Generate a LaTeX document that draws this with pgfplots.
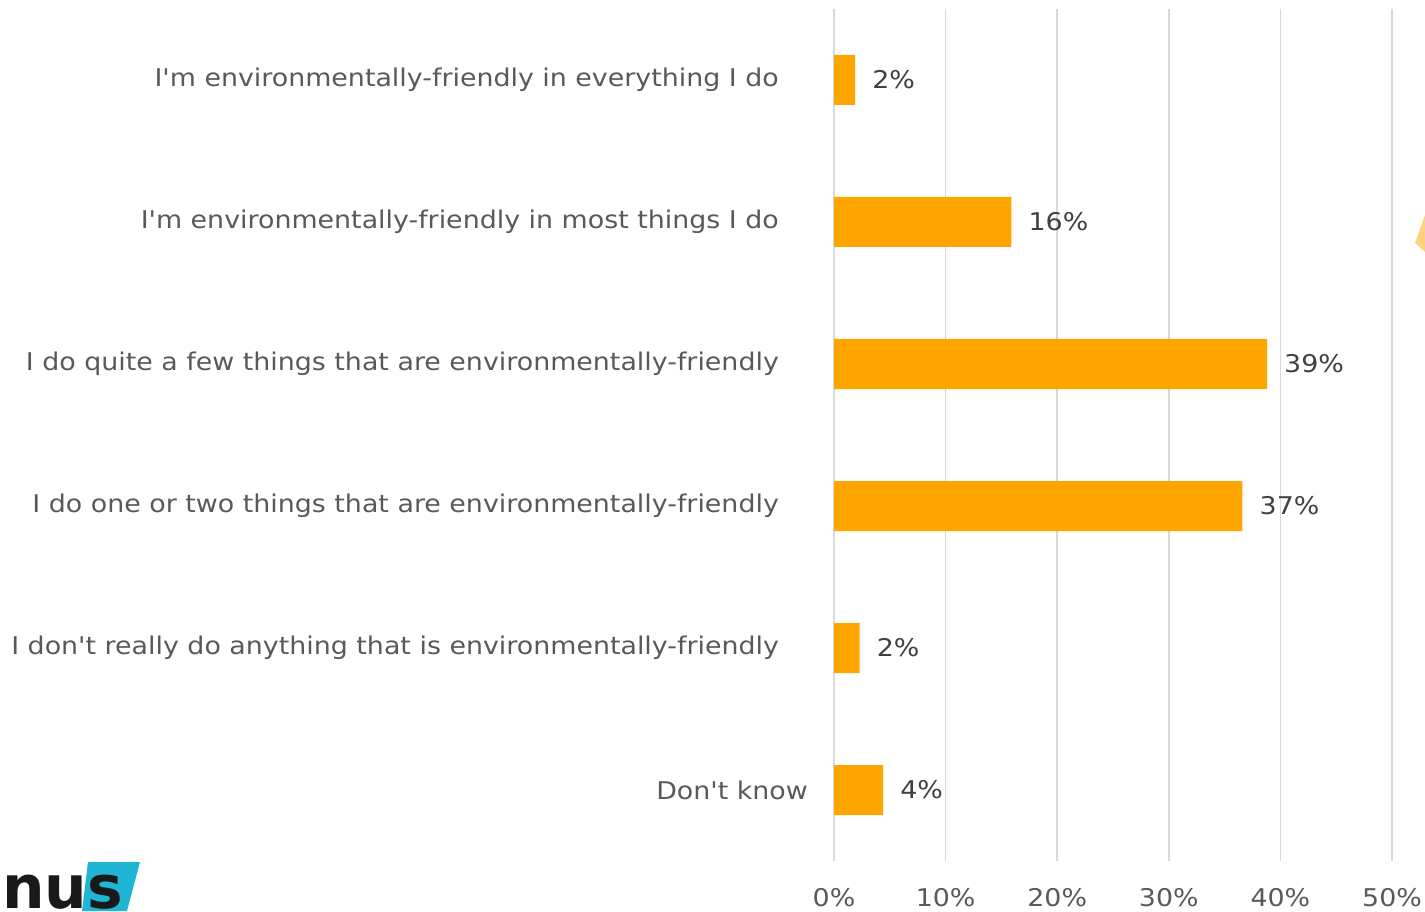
\documentclass[border=0pt]{standalone}
\usepackage{pgfplots}
\pgfplotsset{compat=1.18}
\usepackage{fontspec}
\setmainfont{DejaVu Sans}[Ligatures=TeXOff, FakeStretch=1.1]
\newfontfamily\logofont{DejaVu Sans}[Ligatures=TeXOff]
\definecolor{barc}{HTML}{FFA500}
\definecolor{txt}{HTML}{595959}
\definecolor{dtxt}{HTML}{404040}
\definecolor{gridc}{HTML}{D9D9D9}
\definecolor{nuscyan}{HTML}{1FB6D6}
\definecolor{lightor}{HTML}{FFD27F}
\begin{document}
\begin{tikzpicture}[x=1bp,y=1bp]
\path[use as bounding box] (0,0) rectangle (1425,911);
\fill[nuscyan] (88,49) -- (140,49) -- (127,0) -- (82,0) -- cycle;
\node[anchor=base west, inner sep=0pt, font=\logofont\fontsize{60}{60}\bfseries, text=black!90] at (2,3) {nus};
\fill[lightor] (1415,668) -- (1425,696) -- (1425,659) -- cycle;
\begin{axis}[
  at={(834bp,50bp)}, anchor=south west,
  scale only axis, width=558bp, height=852bp,
  xbar, bar width=50bp,
  xmin=0, xmax=50, ymin=-0.5, ymax=5.5, y dir=reverse,
  axis line style={draw=none},
  xtick={0,10,20,30,40,50},
  xticklabels={0\%,10\%,20\%,30\%,40\%,50\%},
  ytick={0,1,2,3,4,5},
  yticklabels={
    I'm environmentally-friendly in everything I do,
    I'm environmentally-friendly in most things I do,
    I do quite a few things that are environmentally-friendly,
    I do one or two things that are environmentally-friendly,
    I don't really do anything that is environmentally-friendly,
    {Don't know\kern-29bp}},
  major tick length=0pt,
  xmajorgrids, grid style={gridc, line width=1.5bp},
  tick label style={font=\fontsize{24.5}{29}\selectfont, text=txt},
  yticklabel style={inner sep=0pt, anchor=east, xshift=-55bp},
  xticklabel style={inner sep=0pt, anchor=north, yshift=-27bp},
  point meta=explicit symbolic,
  nodes near coords={\pgfplotspointmeta\%},
  nodes near coords style={anchor=west, inner sep=0pt, xshift=17bp, text=dtxt, font=\fontsize{24.5}{29}\selectfont},
  clip=false,
]
\addplot[fill=barc, draw=none] coordinates {
  (1.9,0) [2]
  (15.9,1) [16]
  (38.8,2) [39]
  (36.6,3) [37]
  (2.3,4) [2]
  (4.4,5) [4]
};
\end{axis}
\end{tikzpicture}
\end{document}
